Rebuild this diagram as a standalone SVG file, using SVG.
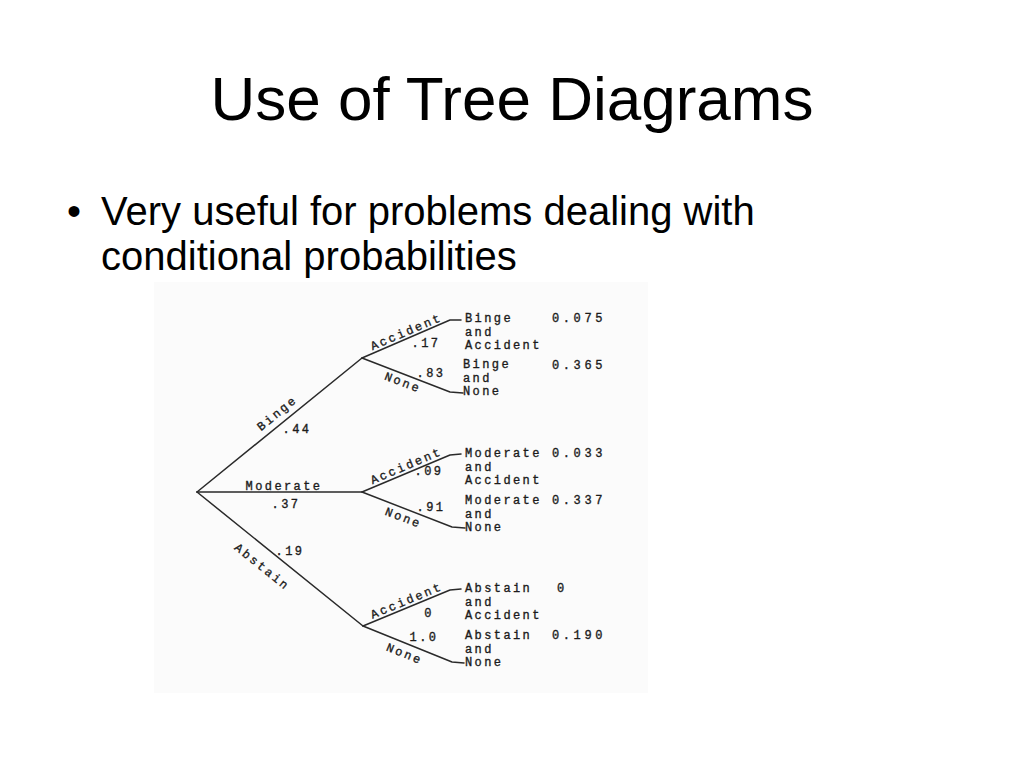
<svg xmlns="http://www.w3.org/2000/svg" width="1024" height="768" viewBox="0 0 1024 768">
  <style>
    .title { font-family: "Liberation Sans", Arial, sans-serif; font-size: 62px; fill: #000; }
    .body { font-family: "Liberation Sans", Arial, sans-serif; font-size: 40px; fill: #000; }
    .hw { font-family: "Liberation Mono", "DejaVu Sans Mono", monospace; font-size: 12px; letter-spacing: 2.4px; fill: #1c1c1c; stroke: #1c1c1c; stroke-width: 0.35; }
    .num { font-family: "Liberation Mono", "DejaVu Sans Mono", monospace; font-size: 12px; letter-spacing: 3.6px; fill: #1c1c1c; stroke: #1c1c1c; stroke-width: 0.35; }
    .br { fill: none; stroke: #2a2a2a; stroke-width: 1.5; stroke-linejoin: round; stroke-linecap: round; }
  </style>
  <rect width="1024" height="768" fill="#ffffff"/>

  <g id="title-block">
    <text class="title" x="512" y="120" text-anchor="middle">Use of Tree Diagrams</text>
  </g>
  <g id="bullet">
    <text class="body" x="67" y="225">•</text>
    <text class="body" x="101" y="225">Very useful for problems dealing with</text>
    <text class="body" x="101" y="270">conditional probabilities</text>
  </g>

  <rect id="picture" x="154" y="282" width="494" height="411" fill="#fbfbfb"/>

  <g id="connectors">
    <path class="br" d="M197,492 L362,358"/>
    <path class="br" d="M197,492 L362,492"/>
    <path class="br" d="M197,492 L363,626"/>
    <path class="br" d="M362,358 L450,320 L461,320"/>
    <path class="br" d="M362,358 L450,392 L463,393"/>
    <path class="br" d="M362,492 L450,455 L461,454"/>
    <path class="br" d="M362,492 L452,527 L465,528"/>
    <path class="br" d="M363,626 L450,590 L461,589"/>
    <path class="br" d="M363,626 L452,662 L464,663"/>
  </g>

  <g id="branch-labels">
    <text class="hw" transform="translate(197,492) rotate(-39)" x="112" y="-7" text-anchor="middle">Binge</text>
    <text class="hw" x="297" y="433" text-anchor="middle">.44</text>
    <text class="hw" x="284" y="490" text-anchor="middle">Moderate</text>
    <text class="hw" x="286" y="508" text-anchor="middle">.37</text>
    <text class="hw" transform="translate(197,492) rotate(39)" x="98" y="21" text-anchor="middle">Abstain</text>
    <text class="hw" x="290" y="555" text-anchor="middle">.19</text>

    <text class="hw" transform="translate(362,358) rotate(-23)" x="51" y="-3" text-anchor="middle">Accident</text>
    <text class="hw" x="426" y="347" text-anchor="middle">.17</text>
    <text class="hw" transform="translate(362,358) rotate(21)" x="47" y="12" text-anchor="middle">None</text>
    <text class="hw" x="431" y="377" text-anchor="middle">.83</text>

    <text class="hw" transform="translate(362,492) rotate(-23)" x="51" y="-3" text-anchor="middle">Accident</text>
    <text class="hw" x="429" y="475" text-anchor="middle">.09</text>
    <text class="hw" transform="translate(362,492) rotate(21)" x="48" y="13" text-anchor="middle">None</text>
    <text class="hw" x="431" y="511" text-anchor="middle">.91</text>

    <text class="hw" transform="translate(363,626) rotate(-22.5)" x="50" y="-3" text-anchor="middle">Accident</text>
    <text class="hw" x="429" y="617" text-anchor="middle">0</text>
    <text class="hw" transform="translate(363,626) rotate(22)" x="49" y="14" text-anchor="middle">None</text>
    <text class="hw" x="424" y="641" text-anchor="middle">1.0</text>
  </g>

  <g id="leaf-binge-accident">
    <text class="hw" x="465" y="322">Binge</text>
    <text class="hw" x="465" y="335.7">and</text>
    <text class="hw" x="465" y="349.4">Accident</text>
    <text class="num" x="552" y="322">0.075</text>
  </g>
  <g id="leaf-binge-none">
    <text class="hw" x="463" y="368">Binge</text>
    <text class="hw" x="463" y="381.7">and</text>
    <text class="hw" x="463" y="395.4">None</text>
    <text class="num" x="552" y="369">0.365</text>
  </g>
  <g id="leaf-moderate-accident">
    <text class="hw" x="465" y="457">Moderate</text>
    <text class="hw" x="465" y="470.7">and</text>
    <text class="hw" x="465" y="484.4">Accident</text>
    <text class="num" x="552" y="457">0.033</text>
  </g>
  <g id="leaf-moderate-none">
    <text class="hw" x="465" y="504">Moderate</text>
    <text class="hw" x="465" y="517.7">and</text>
    <text class="hw" x="465" y="531.4">None</text>
    <text class="num" x="552" y="504">0.337</text>
  </g>
  <g id="leaf-abstain-accident">
    <text class="hw" x="465" y="592">Abstain</text>
    <text class="hw" x="465" y="605.7">and</text>
    <text class="hw" x="465" y="619.4">Accident</text>
    <text class="num" x="557" y="592">0</text>
  </g>
  <g id="leaf-abstain-none">
    <text class="hw" x="465" y="639">Abstain</text>
    <text class="hw" x="465" y="652.7">and</text>
    <text class="hw" x="465" y="666.4">None</text>
    <text class="num" x="552" y="639">0.190</text>
  </g>
</svg>
